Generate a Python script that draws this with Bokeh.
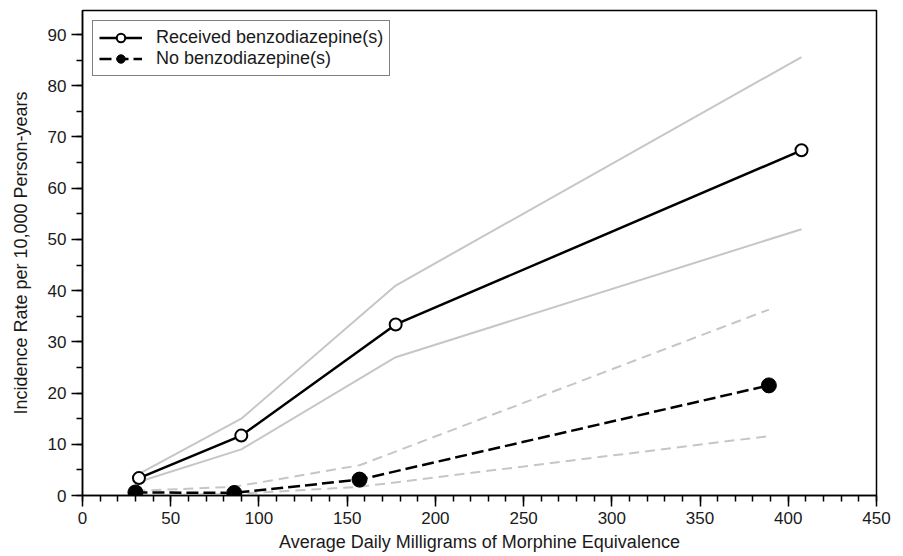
from bokeh.plotting import figure
from bokeh.models import Range1d, SingleIntervalTicker, Legend, LegendItem
from bokeh.embed import file_html
from bokeh.resources import INLINE

# Received benzodiazepine(s)
rec_x = [32, 90, 177.5, 407.5]
rec_y = [3.4, 11.7, 33.4, 67.4]
rec_upper = [4.2, 15.0, 41.0, 85.6]
rec_lower = [2.7, 9.0, 27.0, 52.0]

# No benzodiazepine(s)
nb_x = [30, 86, 157, 389]
nb_y = [0.6, 0.5, 3.1, 21.5]
nb_upper = [0.9, 1.7, 5.9, 36.3]
nb_lower = [0.1, 0.3, 1.7, 11.6]

x_ticks = [0, 50, 100, 150, 200, 250, 300, 350, 400, 450]
y_ticks = [0, 10, 20, 30, 40, 50, 60, 70, 80, 90]

FONT = "Liberation Sans"
GRAY = "#c6c6c6"

p = figure(width=903, height=556, output_backend="svg", toolbar_location=None,
           title=None,
           x_range=Range1d(0, 450), y_range=Range1d(0, 94.7),
           min_border_left=82, min_border_right=27, min_border_top=10,
           min_border_bottom=61)

p.xgrid.visible = False
p.ygrid.visible = False
p.outline_line_color = "black"
p.outline_line_width = 1.5
p.outline_line_alpha = 1.0
p.background_fill_color = "white"
p.border_fill_color = "white"

p.xaxis.ticker = SingleIntervalTicker(interval=50, num_minor_ticks=5)
p.yaxis.ticker = SingleIntervalTicker(interval=10, num_minor_ticks=2)

for ax in (p.xaxis[0], p.yaxis[0]):
    ax.axis_line_color = "black"
    ax.axis_line_width = 1.5
    ax.major_tick_line_color = "black"
    ax.major_tick_line_width = 1.5
    ax.minor_tick_line_color = "black"
    ax.minor_tick_line_width = 1.5
    ax.major_tick_in = 0
    ax.minor_tick_in = 0
    ax.major_tick_out = 11
    ax.minor_tick_out = 6
    ax.major_label_text_font = FONT
    ax.major_label_text_font_size = "17px"
    ax.major_label_text_color = "#1a1a1a"
    ax.axis_label_text_font = FONT
    ax.axis_label_text_font_size = "18px"
    ax.axis_label_text_font_style = "normal"
    ax.axis_label_text_color = "#1a1a1a"

p.xaxis.axis_label = "Average Daily Milligrams of Morphine Equivalence"
p.yaxis.axis_label = "Incidence Rate per 10,000 Person-years"
p.xaxis.major_label_standoff = 5
p.xaxis.axis_label_standoff = 5
p.yaxis.major_label_standoff = 5
p.yaxis.axis_label_standoff = 14

# Confidence bands
p.line(rec_x, rec_upper, line_color=GRAY, line_width=2)
p.line(rec_x, rec_lower, line_color=GRAY, line_width=2)
p.line(nb_x, nb_upper, line_color=GRAY, line_width=2, line_dash="10 6")
p.line(nb_x, nb_lower, line_color=GRAY, line_width=2, line_dash="10 6")

# Main series
nb_line = p.line(nb_x, nb_y, line_color="black", line_width=2.5, line_dash="12 5")
nb_pts = p.scatter(nb_x, nb_y, marker="circle", size=15, fill_color="black",
                   line_color="black", line_width=1)
rec_line = p.line(rec_x, rec_y, line_color="black", line_width=2.5)
rec_pts = p.scatter(rec_x, rec_y, marker="circle", size=12, fill_color="white",
                    line_color="black", line_width=2)

legend = Legend(items=[
    LegendItem(label="Received benzodiazepine(s)", renderers=[rec_line, rec_pts]),
    LegendItem(label="No benzodiazepine(s)", renderers=[nb_line, nb_pts]),
], location="top_left")
legend.margin = 10
legend.padding = 6
legend.spacing = 0
legend.glyph_width = 43
legend.glyph_height = 21
legend.label_height = 21
legend.label_standoff = 14
legend.label_text_font = FONT
legend.label_text_font_size = "18px"
legend.label_text_color = "#1a1a1a"
legend.border_line_color = "black"
legend.border_line_width = 1.2
legend.background_fill_color = "white"
legend.background_fill_alpha = 1.0
p.add_layout(legend)

open("out.html", "w").write(file_html(p, INLINE))
